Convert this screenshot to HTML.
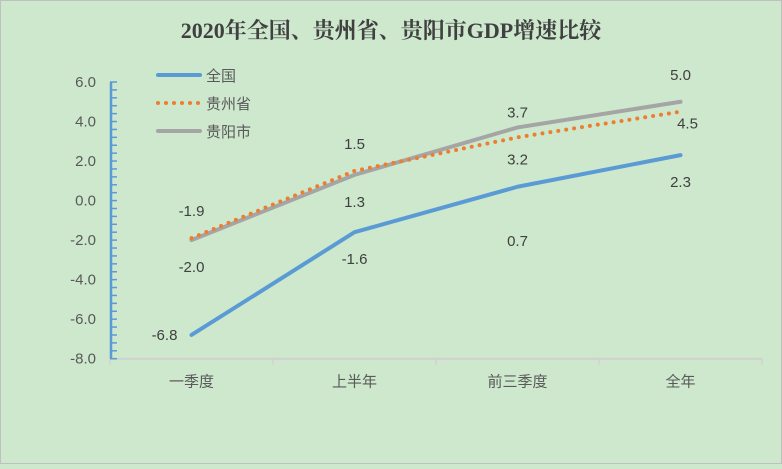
<!DOCTYPE html>
<html><head><meta charset="utf-8"><style>
html,body{margin:0;padding:0}
body{width:782px;height:464px;background:#cde8cd;font-family:"Liberation Sans","Noto Sans CJK SC",sans-serif;overflow:hidden}
</style></head><body>
<svg id="c" width="782" height="464" xmlns="http://www.w3.org/2000/svg">
<rect x="0.5" y="0.5" width="781" height="463" fill="#cde8cd" stroke="#bfbfbf"/>
<text x="391" y="38" text-anchor="middle" font-family="'Liberation Serif','Noto Serif CJK SC',serif" font-weight="bold" font-size="22" fill="#404040">2020年全国、贵州省、贵阳市GDP增速比较</text>
</svg>
<script>
const categories=["一季度","上半年","前三季度","全年"];
const nationalValues=[-6.8,-1.6,0.7,2.3];
const guizhouValues=[-1.9,1.5,3.2,4.5];
const guiyangValues=[-2.0,1.3,3.7,5.0];
const yTicks=[6,4,2,0,-2,-4,-6,-8];
const seriesNames=["全国","贵州省","贵阳市"];
const NS="http://www.w3.org/2000/svg";
const svg=document.getElementById('c');
const x0=110,x1=762,yTop=82,yBot=358.7,yMax=6,yMin=-8;
const bw=(x1-x0)/categories.length;
const xs=i=>x0+bw*(i+0.5);
const ys=v=>yTop+(yMax-v)*(yBot-yTop)/(yMax-yMin);
function mk(tag,a,p){const e=document.createElementNS(NS,tag);for(const k in a)e.setAttribute(k,a[k]);(p||svg).appendChild(e);return e;}
const xa=mk('line',{x1:x0,y1:yBot,x2:x1,y2:yBot,stroke:'#d0d0d0','stroke-width':2});


for(let i=0;i<=categories.length;i++){const t=mk('line',{x1:x0+bw*i,y1:yBot,x2:x0+bw*i,y2:yBot+6,stroke:'#d0d0d0','stroke-width':1.5});

}
categories.forEach((c,i)=>{const t=mk('text',{x:xs(i),y:yBot+28,'text-anchor':'middle','font-size':15,fill:'#595959'});t.textContent=c;

});
const ya=mk('line',{x1:x0+1,y1:yTop,x2:x0+1,y2:yBot,stroke:'#5b9bd5','stroke-width':2.5});


for(let k=0;k<=35;k++){const v=yMin+k*0.4;const t=mk('line',{x1:x0,y1:ys(v),x2:x0+7,y2:ys(v),stroke:'#5b9bd5','stroke-width':1.5});

}
yTicks.forEach(v=>{const t=mk('text',{x:x0-14,y:ys(v)+5,'text-anchor':'end','font-size':15,fill:'#595959'});t.textContent=v.toFixed(1);

});
const series=[
 {vals:guiyangValues,color:'#a5a5a5',dash:null,name:'guiyang',off:[[0,32],[0,32],[0,-10],[0,-22]]},
 {vals:guizhouValues,color:'#ed7d31',dash:'0 8',name:'guizhou',off:[[0,-22],[0,-22],[0,27],[7,17]]},
 {vals:nationalValues,color:'#5b9bd5',dash:null,name:'national',off:[[-27,5],[0,32],[0,59],[0,32]]}
];
series.forEach(s=>{
 const pts=s.vals.map((v,i)=>xs(i)+','+ys(v)).join(' ');
 const a={points:pts,fill:'none',stroke:s.color,'stroke-width':4,'stroke-linecap':'round','stroke-linejoin':'round'};
 if(s.dash)a['stroke-dasharray']=s.dash;
 const l=mk('polyline',a);
 
 
 s.vals.forEach((v,i)=>{const t=mk('text',{x:xs(i)+s.off[i][0],y:ys(v)+s.off[i][1],'text-anchor':'middle','font-size':15,fill:'#404040'});t.textContent=v.toFixed(1);
 
 });
});
const leg=[['#5b9bd5',null],['#ed7d31','0 8'],['#a5a5a5',null]];
seriesNames.forEach((n,i)=>{const y=75+i*28;
 const a={x1:158,y1:y,x2:200,y2:y,stroke:leg[i][0],'stroke-width':4,'stroke-linecap':'round'};if(leg[i][1])a['stroke-dasharray']=leg[i][1];
 const l=mk('line',a);
 
 
 const t=mk('text',{x:206,y:y+6,'font-size':15,fill:'#595959'});t.textContent=n;
 
 });
</script>
</body></html>
